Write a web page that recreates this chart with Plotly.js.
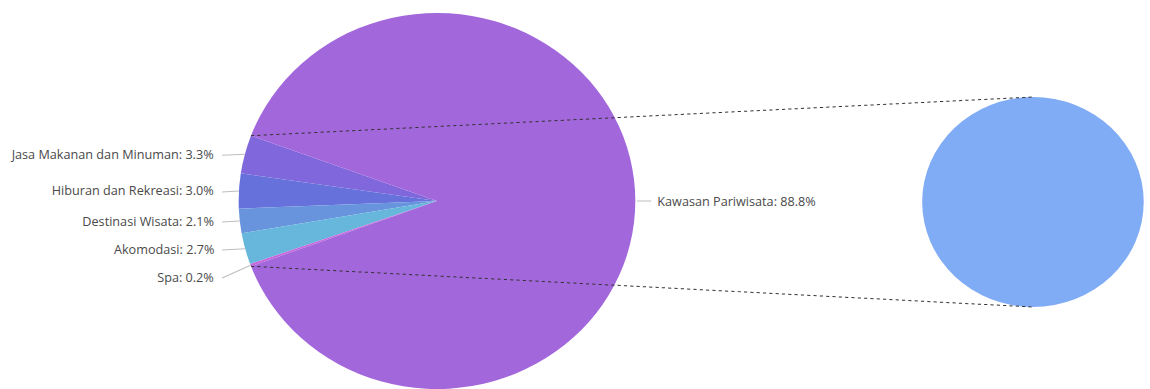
<!DOCTYPE html>
<html>
<head>
<meta charset="utf-8">
<script src="https://cdn.plot.ly/plotly-3.0.1.min.js"></script>
<style>
html,body{margin:0;padding:0;background:#ffffff;overflow:hidden;}
#chart{width:1090px;height:389px;transform:scaleX(1.055);transform-origin:0 0;}
</style>
</head>
<body>
<div id="chart"></div>
<script>
// ---- data ----
const categories = ["Jasa Makanan dan Minuman", "Hiburan dan Rekreasi", "Destinasi Wisata", "Akomodasi", "Spa", "Kawasan Pariwisata"];
const shares = [3.3, 3.0, 2.1, 2.7, 0.2, 88.8];
const sliceColors = ["#8067dc", "#6771dc", "#6794dc", "#67b7dc", "#c767dc", "#a367dc"];
const groupedCount = 5; // first five categories form the small group linked to the right pie
const detailLabels = ["Kawasan Pariwisata"];
const detailValues = [88.8];
const detailColors = ["#80acf5"];

// ---- layout geometry (layout pixels) ----
const W = 1090, H = 389;
const main = {cx: 414.2, cy: 201, r: 188};
const side = {cx: 979.1, cy: 202, r: 105};
const labelRightX = 204.5, lineStartX = 210.5, labelGap = 28;

const px = x => x / W;
const py = y => 1 - y / H;

const total = shares.reduce((a, b) => a + b, 0);
const deg = shares.map(v => v / total * 360);
const groupDeg = deg.slice(0, groupedCount).reduce((a, b) => a + b, 0);
const rotation = -90 + groupDeg / 2 - deg[0];

// clockwise-from-top angles (Plotly counterclockwise convention)
const midAngles = [];
let cur = rotation;
midAngles[0] = rotation + deg[0] / 2;
for (let i = 1; i < deg.length; i++) {
  midAngles[i] = cur - deg[i] / 2;
  cur -= deg[i];
}
const edge = (c, th) => {
  const t = th * Math.PI / 180;
  return [c.cx + c.r * Math.sin(t), c.cy - c.r * Math.cos(t)];
};

const shapes = [];
const annotations = [];
const labelFont = {family: "Open Sans, sans-serif", size: 12, color: "#4a4a4a"};

// left labels (grouped slices), spread vertically
let lastY = -Infinity;
for (let i = 0; i < groupedCount; i++) {
  const [ex, ey] = edge(main, midAngles[i]);
  let ly = Math.max(ey, lastY + labelGap);
  lastY = ly;
  shapes.push({type: "line", xref: "paper", yref: "paper",
    x0: px(lineStartX), y0: py(ly + 1), x1: px(ex), y1: py(ey),
    line: {color: "#bdbdbd", width: 1}});
  annotations.push({xref: "paper", yref: "paper", x: px(labelRightX), y: py(ly),
    xanchor: "right", yanchor: "middle", showarrow: false,
    text: categories[i] + ": " + shares[i].toFixed(1) + "%", font: labelFont});
}
// right label (large slice)
for (let i = groupedCount; i < categories.length; i++) {
  const [ex, ey] = edge(main, midAngles[i]);
  shapes.push({type: "line", xref: "paper", yref: "paper",
    x0: px(ex + 1.5), y0: py(ey), x1: px(ex + 15), y1: py(ey),
    line: {color: "#bdbdbd", width: 1}});
  annotations.push({xref: "paper", yref: "paper", x: px(ex + 19), y: py(ey),
    xanchor: "left", yanchor: "middle", showarrow: false,
    text: categories[i] + ": " + shares[i].toFixed(1) + "%", font: labelFont});
}

// dotted connector lines from group boundaries to the detail pie
const upper = edge(main, rotation + deg[0]);
const lower = edge(main, rotation + deg[0] - groupDeg);
shapes.push({type: "line", xref: "paper", yref: "paper",
  x0: px(upper[0]), y0: py(upper[1]), x1: px(side.cx), y1: py(side.cy - side.r),
  line: {color: "#333333", width: 1, dash: "dot"}});
shapes.push({type: "line", xref: "paper", yref: "paper",
  x0: px(lower[0]), y0: py(lower[1]), x1: px(side.cx), y1: py(side.cy + side.r),
  line: {color: "#333333", width: 1, dash: "dot"}});

const traces = [
  {type: "pie", labels: categories, values: shares, sort: false,
   direction: "counterclockwise", rotation: rotation,
   marker: {colors: sliceColors, line: {width: 0}},
   textinfo: "none", hoverinfo: "label+percent",
   domain: {x: [px(main.cx - main.r), px(main.cx + main.r)], y: [py(main.cy + main.r), py(main.cy - main.r)]}},
  {type: "pie", labels: detailLabels, values: detailValues, sort: false,
   marker: {colors: detailColors, line: {width: 0}},
   textinfo: "none", hoverinfo: "label",
   domain: {x: [px(side.cx - side.r), px(side.cx + side.r)], y: [py(side.cy + side.r), py(side.cy - side.r)]}}
];

const layout = {
  width: W, height: H,
  margin: {l: 0, r: 0, t: 0, b: 0},
  paper_bgcolor: "#ffffff",
  showlegend: false,
  shapes: shapes,
  annotations: annotations
};

Plotly.newPlot("chart", traces, layout, {displayModeBar: false, responsive: false});
</script>
</body>
</html>
